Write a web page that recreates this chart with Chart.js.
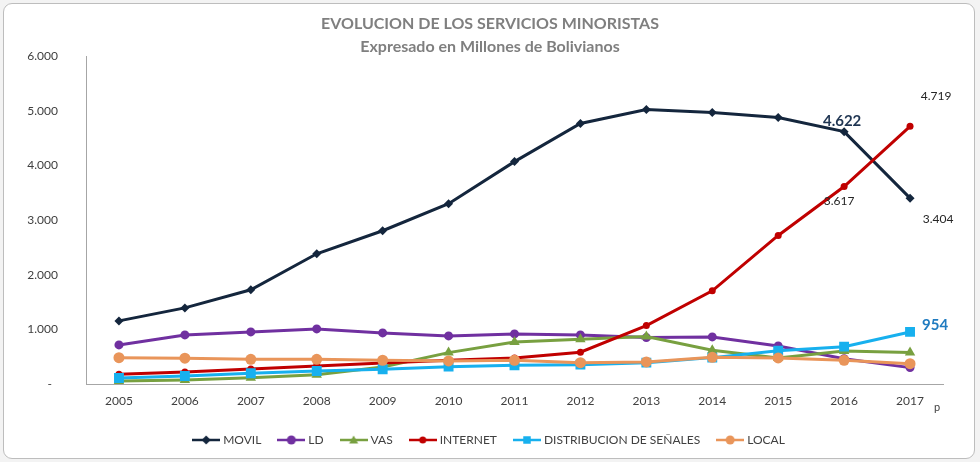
<!DOCTYPE html>
<html>
<head>
<meta charset="utf-8">
<script src="https://cdn.jsdelivr.net/npm/chart.js@4.4.0/dist/chart.umd.min.js"></script>
<style>
html, body { margin:0; padding:0; background:#f3f3f3; }
#wrap { position:relative; width:980px; height:462px; }
#frame { position:absolute; left:3px; top:3px; width:970px; height:454px; border:1px solid #bdbdbd; border-radius:9px; background:#fff; }
#chart { position:absolute; left:0; top:0; }
</style>
</head>
<body>
<div id="wrap">
  <div id="frame"></div>
  <canvas id="chart" width="980" height="462"></canvas>
</div>
<script>
// valores en millones de Bs
var years = ['2005','2006','2007','2008','2009','2010','2011','2012','2013','2014','2015','2016','2017'];
var movil    = [1156, 1394, 1725, 2385, 2807, 3303, 4073, 4771, 5028, 4972, 4881, 4622, 3404];
var ld       = [716, 899, 954, 1009, 936, 881, 917, 899, 850, 862, 697, 464, 300];
var vas      = [55, 73, 116, 171, 312, 575, 771, 820, 868, 618, 477, 605, 575];
var internet = [178, 220, 275, 330, 385, 435, 477, 582, 1070, 1706, 2721, 3617, 4719];
var senales  = [110, 147, 196, 239, 270, 318, 343, 354, 391, 483, 611, 684, 954];
var local    = [483, 472, 453, 453, 435, 422, 435, 391, 404, 490, 477, 435, 373];
var yTicks   = [0, 1000, 2000, 3000, 4000, 5000, 6000];

function fmt(v) {
    return String(v).replace(/\B(?=(\d{3})+(?!\d))/g, '.');
}

function drawMarker(ctx, style, x, y, r, color) {
    ctx.fillStyle = color;
    ctx.beginPath();
    if (style === 'circle') {
        ctx.arc(x, y, r, 0, Math.PI * 2);
    } else if (style === 'rectRot') {
        ctx.moveTo(x, y - r); ctx.lineTo(x + r, y); ctx.lineTo(x, y + r); ctx.lineTo(x - r, y);
    } else if (style === 'triangle') {
        ctx.moveTo(x, y - r); ctx.lineTo(x + r, y + r * 0.8); ctx.lineTo(x - r, y + r * 0.8);
    } else {
        ctx.rect(x - r * 0.75, y - r * 0.75, r * 1.5, r * 1.5);
    }
    ctx.closePath();
    ctx.fill();
}

function legendIcon(style, r, color) {
    var c = document.createElement('canvas');
    c.width = 28; c.height = 12;
    var g = c.getContext('2d');
    g.strokeStyle = color; g.lineWidth = 2.5;
    g.beginPath(); g.moveTo(0, 6); g.lineTo(28, 6); g.stroke();
    drawMarker(g, style, 14, 6, r, color);
    return c;
}

function serie(label, data, color, style, radius, order) {
    return {
        label: label,
        data: data,
        borderColor: color,
        backgroundColor: color,
        borderWidth: 3,
        pointStyle: style,
        pointRadius: radius,
        pointHoverRadius: radius,
        pointBorderWidth: 0,
        tension: 0,
        order: order,
        icon: legendIcon(style, style === 'rect' ? 5 : Math.min(radius, 4.5), color)
    };
}

// etiquetas de datos puestas a mano como en el original
var notes = [
    {ds: 0, i: 11, text: '4.622', dx: -2, dy: -10, font: 'bold 15px Lato', color: '#1f3552'},
    {ds: 0, i: 12, text: '3.404', dx: 28, dy: 21, font: '12px Lato', color: '#262626'},
    {ds: 3, i: 12, text: '4.719', dx: 26, dy: -30, font: '12px Lato', color: '#262626'},
    {ds: 3, i: 11, text: '3.617', dx: -5, dy: 15, font: '12px Lato', color: '#262626'},
    {ds: 4, i: 12, text: '954', dx: 25, dy: -7, font: 'bold 15px Lato', color: '#1f7bc0'}
];

var labelsPlugin = {
    id: 'labelsPlugin',
    afterDatasetsDraw: function(chart) {
        var ctx = chart.ctx;
        ctx.save();
        ctx.textAlign = 'center';
        ctx.textBaseline = 'middle';
        notes.forEach(function(n) {
            var pt = chart.getDatasetMeta(n.ds).data[n.i];
            ctx.font = n.font;
            ctx.fillStyle = n.color;
            ctx.fillText(n.text, pt.x + n.dx, pt.y + n.dy);
        });
        var xs = chart.scales.x;
        ctx.font = '11px Lato';
        ctx.fillStyle = '#404040';
        ctx.fillText('p', xs.getPixelForValue(12) + 27, xs.top + 23);
        ctx.restore();
    }
};

var ctx = document.getElementById('chart').getContext('2d');
var chart = new Chart(ctx, {
    type: 'line',
    data: {
        labels: years,
        datasets: [
            serie('MOVIL', movil, '#14263d', 'rectRot', 4.5, 6),
            serie('LD', ld, '#7030a0', 'circle', 4.5, 5),
            serie('VAS', vas, '#78a040', 'triangle', 6, 4),
            serie('INTERNET', internet, '#c00000', 'circle', 3.5, 3),
            serie('DISTRIBUCION DE SEÑALES', senales, '#17b0ee', 'rect', 7, 2),
            serie('LOCAL', local, '#e9955a', 'circle', 5.5, 1)
        ]
    },
    options: {
        responsive: false,
        animation: false,
        layout: {padding: {left: 0, right: 0, top: 0, bottom: 6}},
        scales: {
            x: {
                offset: true,
                grid: {display: false},
                border: {display: true, color: '#a6a6a6', width: 1},
                ticks: {color: '#404040', font: {family: 'Lato', size: 12}, padding: 2, maxRotation: 0},
                afterFit: function(s) { s.height = 31; }
            },
            y: {
                min: 0,
                max: 6000,
                afterBuildTicks: function(s) { s.ticks = yTicks.map(function(v) { return {value: v}; }); },
                grid: {display: false},
                border: {display: true, color: '#a6a6a6', width: 1},
                ticks: {
                    color: '#404040',
                    font: {family: 'Lato', size: 12},
                    padding: 20,
                    callback: function(v) { return v === 0 ? '-  ' : fmt(v); }
                },
                afterFit: function(s) { s.width = 86; }
            },
            // margen derecho vacio, como en el original
            yRight: {
                position: 'right',
                min: 0,
                max: 6000,
                grid: {display: false},
                border: {display: false},
                ticks: {display: false},
                afterFit: function(s) { s.width = 37; }
            }
        },
        plugins: {
            title: {
                display: true,
                text: 'EVOLUCION DE LOS SERVICIOS MINORISTAS',
                color: '#7f7f7f',
                font: {family: 'Lato', size: 16, weight: 'bold', lineHeight: 1.2},
                padding: {top: 14, bottom: 4}
            },
            subtitle: {
                display: true,
                text: 'Expresado en Millones de Bolivianos',
                color: '#7f7f7f',
                font: {family: 'Lato', size: 16, weight: 'bold', lineHeight: 1.2},
                padding: {top: 0, bottom: 0}
            },
            legend: {
                position: 'bottom',
                labels: {
                    usePointStyle: true,
                    pointStyleWidth: 22,
                    padding: 19,
                    color: '#404040',
                    font: {family: 'Lato', size: 12},
                    generateLabels: function(chart) {
                        return chart.data.datasets.map(function(d, i) {
                            return {
                                text: d.label,
                                pointStyle: d.icon,
                                fillStyle: d.borderColor,
                                strokeStyle: d.borderColor,
                                lineWidth: 0,
                                fontColor: '#404040',
                                datasetIndex: i,
                                hidden: false
                            };
                        });
                    }
                }
            },
            tooltip: {enabled: false}
        }
    },
    plugins: [labelsPlugin]
});
</script>
</body>
</html>
